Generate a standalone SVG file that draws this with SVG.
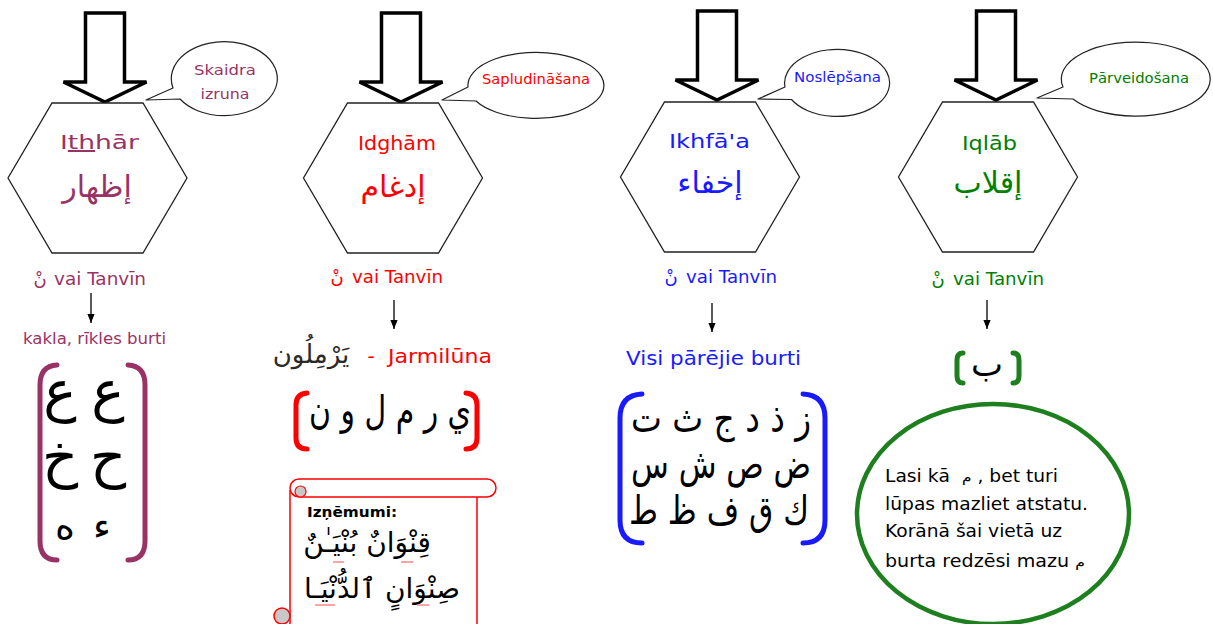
<svg xmlns="http://www.w3.org/2000/svg" width="1213" height="624" viewBox="0 0 1213 624">
  <defs>
    <!-- hollow block arrow pointing down, tip at (0,102) -->
    <path id="blockArrow" d="M-19.5,13 H19.5 V82 H41.5 L0,102 L-41.5,82 H-19.5 Z"/>
    <!-- flat-topped hexagon, top edge at y=0 -->
    <polygon id="hex" points="-45.5,0 45.5,0 89.5,75 45.5,150 -45.5,150 -89.5,75"/>
    <marker id="tip" viewBox="0 0 10 8" refX="10" refY="4" markerWidth="9" markerHeight="8" markerUnits="userSpaceOnUse" orient="auto">
      <path d="M0,0 L10,4 L0,8 Z" fill="#000"/>
    </marker>
  </defs>
  <style>
    .arrow{fill:#fff;stroke:#000;stroke-width:3.5;stroke-linejoin:miter}
    .hex{fill:#fff;stroke:#222;stroke-width:1.3}
    .bubble{fill:#fff;stroke:#222;stroke-width:1.2;stroke-linejoin:round}
    .lat{font-family:"DejaVu Sans","Noto Sans",sans-serif}
    .ar{font-family:"DejaVu Sans","Noto Sans",sans-serif}
    .mid{text-anchor:middle}
    .link{stroke:#000;stroke-width:1.3;fill:none}
    .brk{fill:none;stroke-width:5;stroke-linecap:round;stroke-linejoin:round}
    .purple{fill:#993366}
    .red{fill:#ff0000}
    .blue{fill:#1a1aff}
    .green{fill:#008000}
    .ink{fill:#000}
  </style>
  <rect width="1213" height="624" fill="#fff"/>

  <!-- ===== Ithhār ===== -->
  <g id="ithhar">
    <use href="#blockArrow" class="arrow" x="105" y="0"/>
    <use href="#hex" class="hex" x="97.5" y="103"/>
    <path class="bubble" d="M173,88 L146,100 L180,99 A53,37 0 1 0 173,88 Z"/>
    <text class="lat mid purple" x="225" y="75" font-size="14" textLength="62" lengthAdjust="spacingAndGlyphs">Skaidra</text>
    <text class="lat mid purple" x="225" y="99" font-size="14" textLength="49" lengthAdjust="spacingAndGlyphs">izruna</text>
    <text class="lat mid purple" x="99.5" y="149" font-size="20" textLength="79" lengthAdjust="spacingAndGlyphs">I<tspan text-decoration="underline">th</tspan>hār</text>
    <text class="ar mid purple" x="97" y="197" font-size="30">إظهار</text>
    <text class="ar mid purple" x="40" y="285" font-size="18">نْ</text>
    <text class="lat purple" x="54" y="285" font-size="18" textLength="92" lengthAdjust="spacingAndGlyphs">vai Tanvīn</text>
    <text class="lat mid purple" x="94.5" y="344" font-size="15" textLength="143" lengthAdjust="spacingAndGlyphs">kakla, rīkles burti</text>
    <path class="brk" stroke="#993366" d="M57,365 Q40,366 40,385 V541 Q40,560 57,560"/>
    <path class="brk" stroke="#993366" d="M128,365 Q145,366 145,385 V541 Q145,560 128,560"/>
    <text class="ar mid ink" x="60" y="410" font-size="56">ع</text>
    <text class="ar mid ink" x="108" y="410" font-size="56">ع</text>
    <text class="ar mid ink" x="60" y="476" font-size="56">خ</text>
    <text class="ar mid ink" x="108" y="476" font-size="56">ح</text>
    <text class="ar mid ink" x="65" y="539" font-size="38">ه</text>
    <text class="ar mid ink" x="102" y="539" font-size="38">ء</text>
  </g>

  <!-- ===== Idghām ===== -->
  <g id="idgham">
    <use href="#blockArrow" class="arrow" x="401" y="0"/>
    <use href="#hex" class="hex" x="393" y="103"/>
    <path class="bubble" d="M468,87 L442,100 L476,101 A68,33 0 1 0 468,87 Z"/>
    <text class="lat mid red" x="536" y="84" font-size="14" textLength="108" lengthAdjust="spacingAndGlyphs">Sapludināšana</text>
    <text class="lat mid red" x="397" y="150" font-size="20" textLength="78" lengthAdjust="spacingAndGlyphs">Idghām</text>
    <text class="ar mid red" x="393" y="197" font-size="30">إدغام</text>
    <text class="ar mid red" x="337" y="283" font-size="18">نْ</text>
    <text class="lat red" x="352" y="283" font-size="18" textLength="91" lengthAdjust="spacingAndGlyphs">vai Tanvīn</text>
    <text class="ar mid" fill="#2a2a2a" x="311" y="363" font-size="26">يَرْمِلُون</text>
    <text class="lat mid red" x="371" y="363" font-size="20">-</text>
    <text class="lat red" x="388" y="363" font-size="20" textLength="104" lengthAdjust="spacingAndGlyphs">Jarmilūna</text>
    <path class="brk" stroke="#ff0000" d="M307,393 Q296,394 296,405 V438 Q296,449 307,449"/>
    <path class="brk" stroke="#ff0000" d="M466,393 Q477,394 477,405 V438 Q477,449 466,449"/>
    <text class="ar mid ink" x="390" y="424" font-size="40" textLength="162" lengthAdjust="spacingAndGlyphs">ي ر م ل و ن</text>
    <!-- exceptions scroll -->
    <g id="scroll">
      <path d="M290,490 V630 H477 V497" fill="#fff" stroke="#ff0000" stroke-width="1.5"/>
      <rect x="290" y="479" width="206" height="18" rx="9" fill="#fff" stroke="#ff0000" stroke-width="1.5"/>
      <circle cx="300.5" cy="491.5" r="5.5" fill="#c8c8c8" stroke="#ff0000" stroke-width="1.2"/>
      <circle cx="282" cy="616" r="8" fill="#c8c8c8" stroke="#ff0000" stroke-width="1.5"/>
      <text class="lat ink" x="307" y="517" font-size="14" font-weight="bold" textLength="90" lengthAdjust="spacingAndGlyphs">Izņēmumi:</text>
      <text class="ar mid ink" x="367" y="552" font-size="28">قِنْوَانٌ  بُنْيَـٰنٌ</text>
      <text class="ar mid ink" x="382" y="598" font-size="28">صِنْوَانٍ  ٱلدُّنْيَـا</text>
      <g stroke="#ff6666" stroke-width="1.2">
        <line x1="333" y1="562" x2="344" y2="562"/>
        <line x1="401" y1="562" x2="413" y2="562"/>
        <line x1="315" y1="605" x2="335" y2="605"/>
        <line x1="417" y1="605" x2="429" y2="605"/>
      </g>
    </g>
  </g>

  <!-- ===== Ikhfā'a ===== -->
  <g id="ikhfa">
    <use href="#blockArrow" class="arrow" x="717" y="-2"/>
    <use href="#hex" class="hex" x="710" y="102"/>
    <path class="bubble" d="M785,87 L758,99 L791.5,99.5 A52.5,33.5 0 1 0 785,87 Z"/>
    <text class="lat mid blue" x="837.5" y="82" font-size="14" textLength="87" lengthAdjust="spacingAndGlyphs">Noslēpšana</text>
    <text class="lat mid blue" x="709.5" y="148" font-size="20" textLength="81" lengthAdjust="spacingAndGlyphs">Ikhfā'a</text>
    <text class="ar mid blue" x="710" y="193" font-size="30">إخفاء</text>
    <text class="ar mid blue" x="671" y="283" font-size="18">نْ</text>
    <text class="lat blue" x="686" y="283" font-size="18" textLength="91" lengthAdjust="spacingAndGlyphs">vai Tanvīn</text>
    <text class="lat mid blue" x="713.5" y="365" font-size="20" textLength="175" lengthAdjust="spacingAndGlyphs">Visi pārējie burti</text>
    <path class="brk" stroke="#1a1aff" d="M642,394 Q620,395 620,418 V520 Q620,543 642,543"/>
    <path class="brk" stroke="#1a1aff" d="M803,394 Q825,395 825,418 V520 Q825,543 803,543"/>
    <text class="ar mid ink" x="721" y="432" font-size="40" textLength="180" lengthAdjust="spacingAndGlyphs">ز ذ د ج ث ت</text>
    <text class="ar mid ink" x="721" y="478" font-size="40" textLength="180" lengthAdjust="spacingAndGlyphs">ض ص ش س</text>
    <text class="ar mid ink" x="719" y="524" font-size="40" textLength="180" lengthAdjust="spacingAndGlyphs">ك ق ف ظ ط</text>
  </g>

  <!-- ===== Iqlāb ===== -->
  <g id="iqlab">
    <use href="#blockArrow" class="arrow" x="996" y="-2"/>
    <use href="#hex" class="hex" x="988" y="102"/>
    <path class="bubble" d="M1063,87 L1037,98 L1073,99 A74.5,37 0 1 0 1063,87 Z"/>
    <text class="lat mid green" x="1139" y="83" font-size="14" textLength="100" lengthAdjust="spacingAndGlyphs">Pārveidošana</text>
    <text class="lat mid green" x="989.5" y="150" font-size="20" textLength="55" lengthAdjust="spacingAndGlyphs">Iqlāb</text>
    <text class="ar mid green" x="988" y="193" font-size="30">إقلاب</text>
    <text class="ar mid green" x="938" y="285" font-size="18">نْ</text>
    <text class="lat green" x="953" y="285" font-size="18" textLength="91" lengthAdjust="spacingAndGlyphs">vai Tanvīn</text>
    <path class="brk" stroke="#1e7f1e" d="M963,353 Q957,353 957,360 V376 Q957,383 963,383"/>
    <path class="brk" stroke="#1e7f1e" d="M1013,353 Q1019,353 1019,360 V376 Q1019,383 1013,383"/>
    <text class="ar mid ink" x="987" y="376" font-size="34">ب</text>
    <ellipse cx="993" cy="514" rx="136" ry="110" fill="#fff" stroke="#1e7f1e" stroke-width="4.5"/>
    <text class="lat ink" x="885" y="482" font-size="17" xml:space="preserve" textLength="173" lengthAdjust="spacingAndGlyphs">Lasi kā  <tspan class="ar" font-size="14">م</tspan> , bet turi</text>
    <text class="lat ink" x="885" y="510" font-size="17" textLength="203" lengthAdjust="spacingAndGlyphs">lūpas mazliet atstatu.</text>
    <text class="lat ink" x="885" y="537" font-size="17" textLength="177" lengthAdjust="spacingAndGlyphs">Korānā šai vietā uz</text>
    <text class="lat ink" x="885" y="567" font-size="17" xml:space="preserve" textLength="200" lengthAdjust="spacingAndGlyphs">burta redzēsi mazu <tspan class="ar" font-size="14">م</tspan></text>
  </g>

  <!-- ===== connectors ===== -->
  <g id="connectors">
    <line class="link" x1="91" y1="293" x2="91" y2="323" marker-end="url(#tip)"/>
    <line class="link" x1="394" y1="300" x2="394" y2="329" marker-end="url(#tip)"/>
    <line class="link" x1="712" y1="303" x2="712" y2="332" marker-end="url(#tip)"/>
    <line class="link" x1="987" y1="300" x2="987" y2="329" marker-end="url(#tip)"/>
  </g>
</svg>
